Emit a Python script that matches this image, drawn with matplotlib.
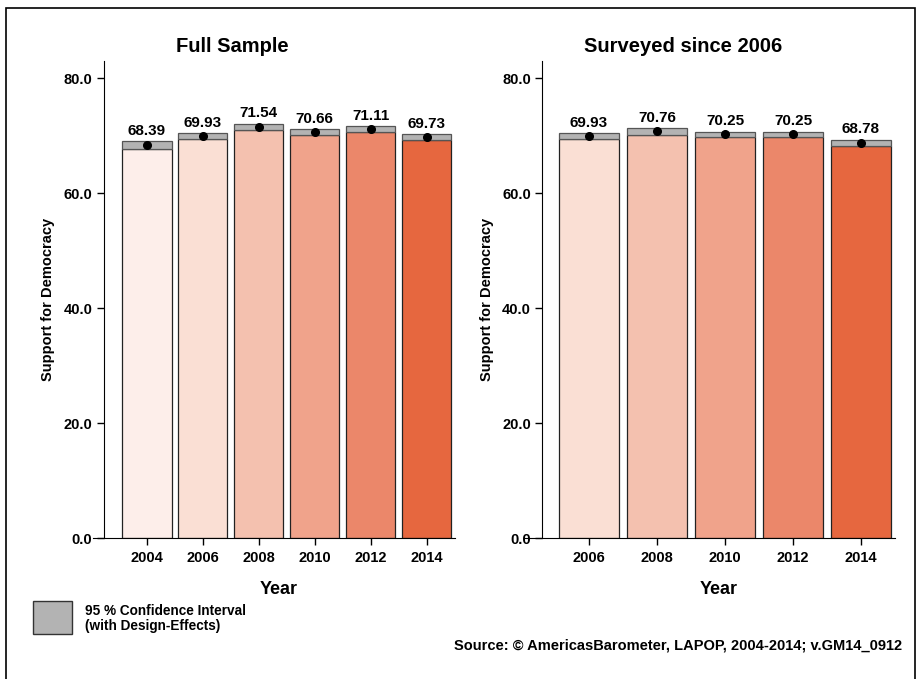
import numpy as np
import matplotlib
matplotlib.use("Agg")
import matplotlib.pyplot as plt
from matplotlib.patches import Rectangle

plt.rcParams['font.family'] = ['Liberation Sans', 'DejaVu Sans']
plt.rcParams['font.weight'] = 'bold'

# Full sample
years_full = ['2004', '2006', '2008', '2010', '2012', '2014']
mean_full = [68.39, 69.93, 71.54, 70.66, 71.11, 69.73]
ci_full = [0.67, 0.52, 0.52, 0.47, 0.50, 0.52]
colors_full = ['#fdeeea', '#fadfd4', '#f4c1af', '#f0a38b', '#eb876a', '#e6673f']

# Surveyed since 2006
years_06 = ['2006', '2008', '2010', '2012', '2014']
mean_06 = [69.93, 70.76, 70.25, 70.25, 68.78]
ci_06 = [0.55, 0.57, 0.43, 0.43, 0.49]
colors_06 = ['#fadfd4', '#f4c1af', '#f0a38b', '#eb876a', '#e6673f']

W, H = 917, 679
fig = plt.figure(figsize=(W / 100, H / 100), dpi=100)

def draw_panel(ax, years, means, cis, colors, width):
    x = np.arange(len(years))
    means = np.array(means)
    cis = np.array(cis)
    lo = means - cis
    hi = means + cis
    ax.bar(x, lo, width=width, color=colors, edgecolor='#222222', linewidth=0.9, zorder=2)
    ax.bar(x, hi - lo, bottom=lo, width=width, color='#b3b3b3', edgecolor='#555555', linewidth=0.9, zorder=2)
    ax.plot(x, means, 'o', color='black', markersize=5.5, zorder=3)
    for xi, m, h in zip(x, means, hi):
        ax.text(xi, h + 0.6, f"{m:.2f}", ha='center', va='bottom', fontsize=11, fontweight='bold')
    ax.set_xticks(x)
    ax.set_xticklabels(years)
    ax.set_ylim(0, 83)
    ax.set_yticks([0, 20, 40, 60, 80])
    ax.set_yticklabels(['0.0', '20.0', '40.0', '60.0', '80.0'])
    ax.spines['top'].set_visible(False)
    ax.spines['right'].set_visible(False)
    ax.spines['bottom'].set_bounds(-0.95, x[-1] + 0.5)
    ax.tick_params(axis='both', direction='out', length=5, width=1, labelsize=10.5)
    ax.tick_params(axis='y', pad=3)
    ax.tick_params(axis='x', pad=4)
    for lab in ax.get_xticklabels() + ax.get_yticklabels():
        lab.set_fontweight('bold')
    ax.set_xlabel('Year', fontsize=13, fontweight='bold', labelpad=12)
    ax.set_ylabel('Support for Democracy', fontsize=10.5, fontweight='bold', labelpad=6)

ax1 = fig.add_axes([103.5 / W, 141 / H, 351 / W, 477 / H])
draw_panel(ax1, years_full, mean_full, ci_full, colors_full, 0.89)
ax1.set_xlim(-0.77, 5.5)

ax2 = fig.add_axes([542 / W, 141 / H, 353 / W, 477 / H])
draw_panel(ax2, years_06, mean_06, ci_06, colors_06, 0.88)
ax2.set_xlim(-0.69, 4.5)

fig.text(232 / W, 1 - 46 / H, 'Full Sample', ha='center', va='center', fontsize=14.5, fontweight='bold')
fig.text(683 / W, 1 - 46 / H, 'Surveyed since 2006', ha='center', va='center', fontsize=14.5, fontweight='bold')

# legend box for the confidence interval
fig.patches.append(Rectangle((33 / W, 1 - 634 / H), 39 / W, 33 / H, transform=fig.transFigure,
                             facecolor='#b3b3b3', edgecolor='#333333', linewidth=1))
fig.text(85 / W, 1 - 618.5 / H, '95 % Confidence Interval\n(with Design-Effects)', ha='left', va='center',
         fontsize=9.8, fontweight='bold', linespacing=1.1)

fig.text(902 / W, 1 - 645 / H, 'Source: \u00a9 AmericasBarometer, LAPOP, 2004-2014; v.GM14_0912',
         ha='right', va='center', fontsize=10.5, fontweight='bold')

# outer frame
fig.patches.append(Rectangle((6 / W, -0.05), 909 / W, 1.05 - 8 / H, transform=fig.transFigure,
                             facecolor='none', edgecolor='black', linewidth=1.2))

fig.savefig('out.png', dpi=100)
